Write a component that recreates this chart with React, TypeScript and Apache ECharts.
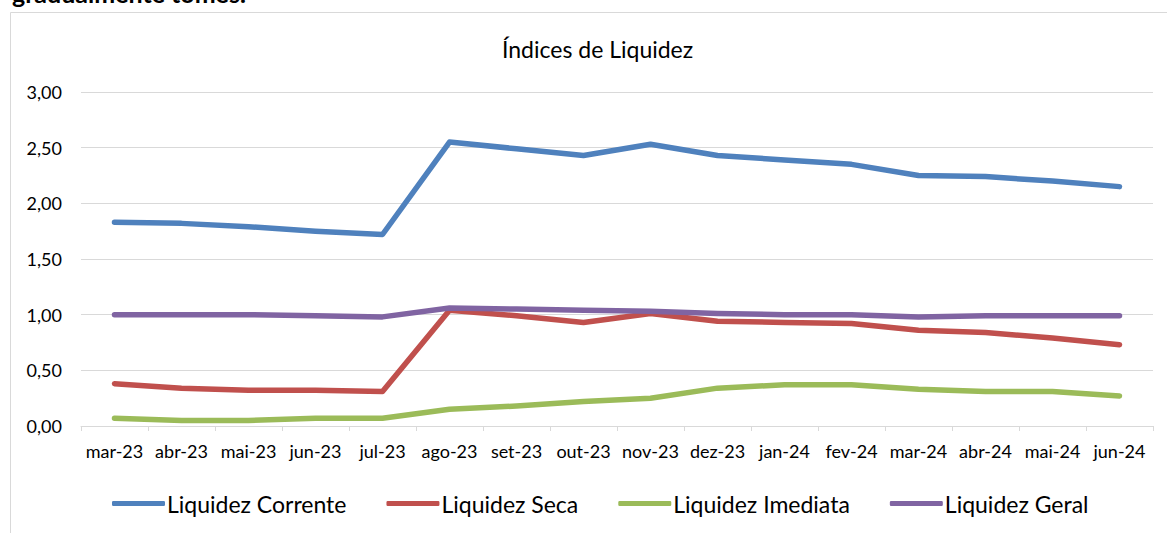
import React, { useEffect, useRef } from "react";
import * as echarts from "echarts";

const categories = ["mar-23", "abr-23", "mai-23", "jun-23", "jul-23", "ago-23", "set-23", "out-23", "nov-23", "dez-23", "jan-24", "fev-24", "mar-24", "abr-24", "mai-24", "jun-24"];
const liquidezCorrente = [1.83, 1.82, 1.79, 1.75, 1.72, 2.55, 2.49, 2.43, 2.53, 2.43, 2.39, 2.35, 2.25, 2.24, 2.20, 2.15];
const liquidezSeca = [0.38, 0.34, 0.32, 0.32, 0.31, 1.04, 0.99, 0.93, 1.01, 0.94, 0.93, 0.92, 0.86, 0.84, 0.79, 0.73];
const liquidezImediata = [0.07, 0.05, 0.05, 0.07, 0.07, 0.15, 0.18, 0.22, 0.25, 0.34, 0.37, 0.37, 0.33, 0.31, 0.31, 0.27];
const liquidezGeral = [1.00, 1.00, 1.00, 0.99, 0.98, 1.06, 1.05, 1.04, 1.03, 1.01, 1.00, 1.00, 0.98, 0.99, 0.99, 0.99];
const seriesNames = ["Liquidez Corrente", "Liquidez Seca", "Liquidez Imediata", "Liquidez Geral"];
const colors = ["#4f81bd", "#c0504d", "#9bbb59", "#8064a2"];

const FONT = "Lato, 'Open Sans', sans-serif";

export default function App() {
  const ref = useRef<HTMLDivElement>(null);
  useEffect(() => {
    if (!ref.current) return;
    const chart = echarts.init(ref.current, undefined, { renderer: "svg" });
    const data = [liquidezCorrente, liquidezSeca, liquidezImediata, liquidezGeral];
    chart.setOption({
      animation: false,
      textStyle: { fontFamily: FONT },
      color: colors,
      title: {
        text: "Índices de Liquidez",
        left: 497,
        top: 32,
        textStyle: { fontFamily: FONT, fontSize: 23, fontWeight: "normal", color: "#000" },
      },
      graphic: [
        {
          type: "rect",
          shape: { x: 10.5, y: 12.5, width: 1300, height: 700 },
          style: { fill: "none", stroke: "#d9d9d9", lineWidth: 1 },
          silent: true,
        },
        {
          type: "text",
          x: 12,
          y: -20,
          style: { text: "gradualmente tomes.", font: "bold 25px " + FONT, fill: "#000" },
          silent: true,
        },
      ],
      legend: {
        data: seriesNames,
        left: 107,
        top: 487,
        itemWidth: 53,
        itemHeight: 5,
        itemGap: 40,
        icon: "roundRect",
        textStyle: { fontFamily: FONT, fontSize: 23, color: "#000", padding: [0, 0, 0, -3] },
      },
      grid: { left: 81, right: 14, top: 92, bottom: 107, containLabel: false },
      xAxis: {
        type: "category",
        data: categories,
        boundaryGap: true,
        axisLine: { lineStyle: { color: "#d9d9d9", width: 1 } },
        axisTick: { show: true, length: 5, lineStyle: { color: "#d9d9d9" } },
        axisLabel: { color: "#000", fontSize: 18, margin: 16, interval: 0, fontFamily: FONT },
      },
      yAxis: {
        type: "value",
        min: 0,
        max: 3,
        interval: 0.5,
        axisLine: { show: false },
        axisTick: { show: false },
        splitLine: { lineStyle: { color: "#d9d9d9", width: 1 } },
        axisLabel: {
          color: "#000",
          fontSize: 18,
          margin: 19,
          fontFamily: FONT,
          formatter: (v: number) => v.toFixed(2).replace(".", ","),
        },
      },
      series: seriesNames.map((name, i) => ({
        name,
        type: "line",
        data: data[i],
        symbol: "none",
        smooth: false,
        lineStyle: { width: 5.5, color: colors[i], cap: "round", join: "round" },
        itemStyle: { color: colors[i] },
      })),
    });
    return () => chart.dispose();
  }, []);
  return (
    <div
      ref={ref}
      style={{ position: "absolute", left: 0, top: 0, width: 1167, height: 533 }}
    />
  );
}
